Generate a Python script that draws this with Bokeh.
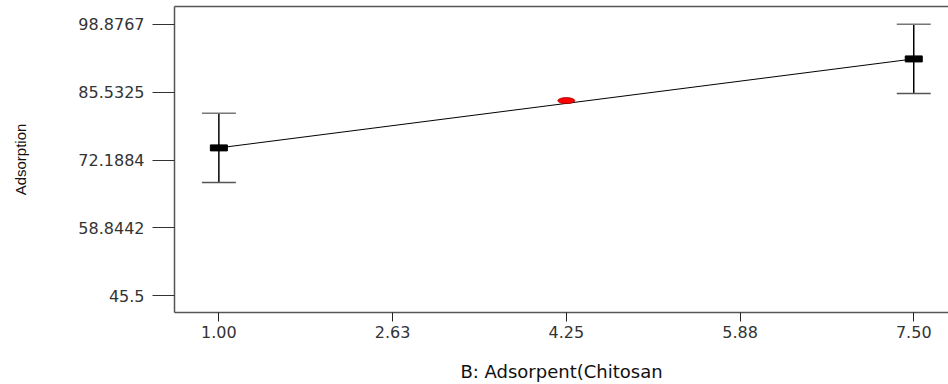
from bokeh.plotting import figure
from bokeh.models import (ColumnDataSource, FixedTicker, LinearAxis, Whisker,
                          TeeHead)
from bokeh.embed import file_html
from bokeh.resources import INLINE

# Factor levels of B and the predicted adsorption with its interval
x_levels = [1.00, 7.50]
adsorption = [74.6, 92.1]
lower = [67.8, 85.3]
upper = [81.4, 98.9]

# Design-point (centre) prediction
center_x = [4.25]
center_y = [83.9]

# Axis ticks and their printed labels
x_ticks = [1.00, 2.625, 4.25, 5.875, 7.50]
x_tick_labels = ["1.00", "2.63", "4.25", "5.88", "7.50"]
y_ticks = [45.5, 58.8442, 72.1884, 85.5325, 98.8767]
y_tick_labels = ["45.5", "58.8442", "72.1884", "85.5325", "98.8767"]

TEXT = "#333333"
AXIS = "#555555"
TICK_FONT = "DejaVu Sans"

p = figure(width=948, height=384, output_backend="svg", toolbar_location=None,
           x_range=(0.585, 7.825), y_range=(42.22, 102.41),
           min_border_left=174, min_border_right=0, min_border_top=6,
           min_border_bottom=71, x_axis_location=None, y_axis_location=None)
p.outline_line_color = None
p.xgrid.visible = False
p.ygrid.visible = False
p.background_fill_color = "white"
p.border_fill_color = "white"

# bottom axis
xa = LinearAxis(ticker=FixedTicker(ticks=x_ticks),
                major_label_overrides=dict(zip(x_ticks, x_tick_labels)),
                axis_label="B: Adsorpent(Chitosan")
xa.axis_line_color = AXIS
xa.axis_line_width = 1.5
xa.major_tick_line_color = "#222222"
xa.major_tick_out = 9
xa.major_tick_in = 0
xa.minor_tick_line_color = None
xa.major_label_text_font = TICK_FONT
xa.major_label_text_font_size = "16px"
xa.major_label_text_color = TEXT
xa.major_label_standoff = 4
xa.axis_label_text_font = TICK_FONT
xa.axis_label_text_font_size = "18px"
xa.axis_label_text_font_style = "normal"
xa.axis_label_text_color = "#111111"
xa.axis_label_standoff = 20
p.add_layout(xa, "below")

# left axis
ya = LinearAxis(ticker=FixedTicker(ticks=y_ticks),
                major_label_overrides=dict(zip(y_ticks, y_tick_labels)),
                axis_label="Adsorption")
ya.axis_line_color = AXIS
ya.axis_line_width = 1.5
ya.major_tick_line_color = "#333333"
ya.major_tick_out = 22
ya.major_tick_in = 0
ya.minor_tick_line_color = None
ya.major_label_text_font = TICK_FONT
ya.major_label_text_font_size = "16px"
ya.major_label_text_color = TEXT
ya.major_label_standoff = 8
ya.axis_label_text_font = "Liberation Sans"
ya.axis_label_text_font_size = "15px"
ya.axis_label_text_font_style = "normal"
ya.axis_label_text_color = "#111111"
ya.axis_label_standoff = 46
p.add_layout(ya, "left")

# top frame edge
ta = LinearAxis(ticker=FixedTicker(ticks=[]))
ta.axis_line_color = AXIS
ta.axis_line_width = 1.5
ta.major_tick_line_color = None
ta.minor_tick_line_color = None
ta.major_label_text_font_size = "0px"
ta.major_label_standoff = 0
ta.major_tick_out = 0
ta.minor_tick_out = 0
p.add_layout(ta, "above")

src = ColumnDataSource(data=dict(x=x_levels, y=adsorption,
                                 lower=lower, upper=upper))

# prediction line between the factor levels
p.line("x", "y", source=src, line_color="black", line_width=1)

# interval bars
whisk = Whisker(source=src, base="x", upper="upper", lower="lower",
                dimension="height", line_color="black", line_width=1.5,
                upper_head=TeeHead(size=34, line_color="#777777", line_width=1.5),
                lower_head=TeeHead(size=34, line_color="#555555", line_width=1.5))
p.add_layout(whisk)

# mean markers
p.rect("x", "y", source=src, width=17, height=6, width_units="screen",
       height_units="screen", fill_color="black", line_color="black")

# centre point
p.ellipse(center_x, center_y, width=17, height=6, width_units="screen",
          height_units="screen", fill_color="#ff0000", line_color="#990000",
          line_width=0.8)

open("out.html", "w").write(file_html(p, INLINE))
